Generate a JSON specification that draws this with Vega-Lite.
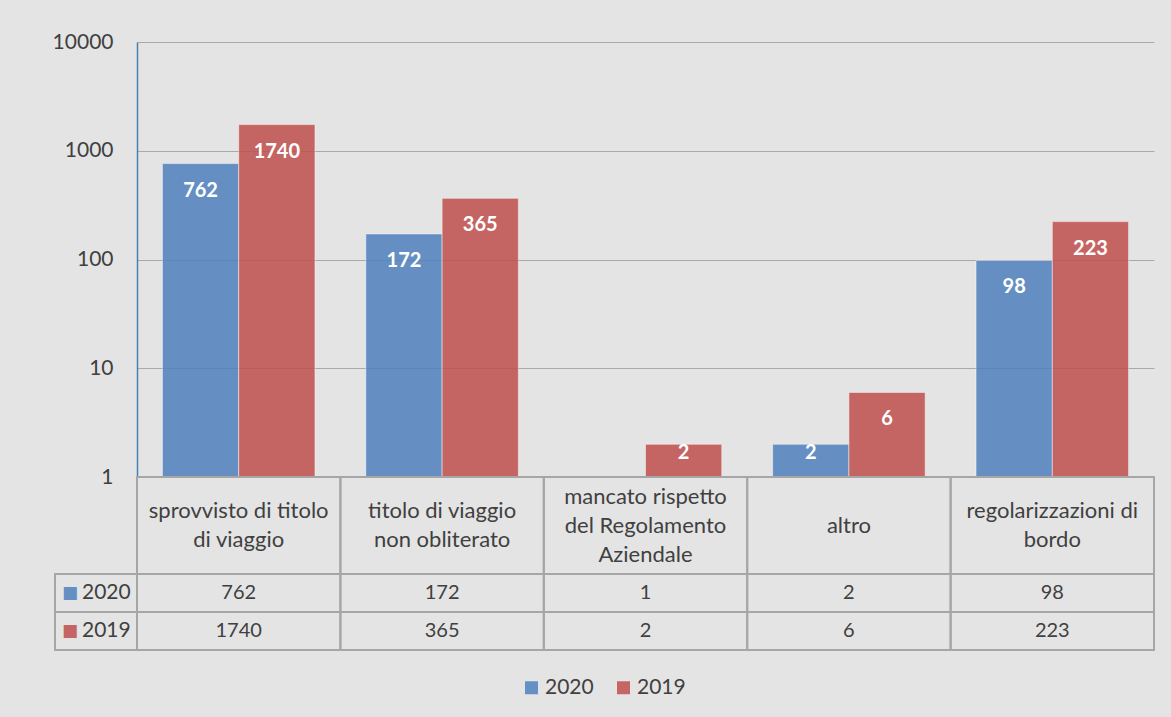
{
  "$schema": "https://vega.github.io/schema/vega-lite/v6.json",
  "background": "#e4e4e4",
  "padding": {"left": 52, "top": 31, "right": 20, "bottom": 21},
  "config": {"view": {"stroke": null}, "font": "Lato", "text": {"font": "Lato"}},
  "datasets": {
    "counts": [
      {"cat": "sprovvisto di titolo\ndi viaggio", "series": "2020", "value": 762},
      {"cat": "sprovvisto di titolo\ndi viaggio", "series": "2019", "value": 1740},
      {"cat": "titolo di viaggio\nnon obliterato", "series": "2020", "value": 172},
      {"cat": "titolo di viaggio\nnon obliterato", "series": "2019", "value": 365},
      {"cat": "mancato rispetto\ndel Regolamento\nAziendale", "series": "2020", "value": 1},
      {"cat": "mancato rispetto\ndel Regolamento\nAziendale", "series": "2019", "value": 2},
      {"cat": "altro", "series": "2020", "value": 2},
      {"cat": "altro", "series": "2019", "value": 6},
      {"cat": "regolarizzazioni di\nbordo", "series": "2020", "value": 98},
      {"cat": "regolarizzazioni di\nbordo", "series": "2019", "value": 223}
    ]
  },
  "data": {"name": "counts"},
  "columns": 2,
  "spacing": 0,
  "bounds": "flush",
  "align": "each",
  "concat": [
    {
      "width": 1, "height": 1,
      "mark": {"type": "point", "opacity": 0},
      "encoding": {}
    },
    {
      "width": 1017, "height": 435,
      "encoding": {
        "x": {"field": "cat", "type": "nominal", "sort": null, "scale": {"paddingInner": 0.25, "paddingOuter": 0.125}, "axis": null},
        "xOffset": {"field": "series", "type": "nominal", "sort": ["2020", "2019"]},
        "y": {
          "field": "value", "type": "quantitative",
          "scale": {"type": "log", "domain": [1, 10000]},
          "axis": {
            "values": [1, 10, 100, 1000, 10000], "format": "d", "title": null,
            "grid": true, "gridColor": "#a9a9a9", "gridWidth": 1,
            "domainColor": "#4a7ebb", "domainWidth": 1.5, "ticks": false,
            "labelFontSize": 21, "labelColor": "#404040", "labelFont": "Lato", "labelPadding": 24
          }
        }
      },
      "layer": [
        {
          "mark": {"type": "bar", "opacity": 0.85, "stroke": "#ffffff", "strokeOpacity": 0.5, "strokeWidth": 1},
          "encoding": {
            "y2": {"datum": 1},
            "color": {
              "field": "series", "type": "nominal",
              "scale": {"domain": ["2020", "2019"], "range": ["#4F81BD", "#C0504D"]},
              "legend": {
                "orient": "none", "legendX": 466, "legendY": 635, "direction": "horizontal",
                "title": null, "symbolType": "square", "symbolSize": 169, "symbolOpacity": 0.85,
                "symbolStrokeWidth": 0, "labelFontSize": 21, "labelColor": "#404040", "labelFont": "Lato",
                "columnPadding": 19, "labelOffset": 3
              }
            }
          }
        },
        {
          "transform": [{"filter": "datum.value >= 5"}],
          "mark": {"type": "text", "dy": 27, "color": "#ffffff", "fontWeight": "bold", "fontSize": 20},
          "encoding": {"text": {"field": "value", "type": "quantitative"}}
        },
        {
          "transform": [{"filter": "datum.value > 1 && datum.value < 5"}],
          "mark": {"type": "text", "dy": 9, "color": "#ffffff", "fontWeight": "bold", "fontSize": 20},
          "encoding": {"text": {"field": "value", "type": "quantitative"}}
        }
      ]
    },
    {
      "width": 1, "height": 1,
      "mark": {"type": "point", "opacity": 0},
      "encoding": {}
    },
    {
      "width": 1017, "height": 97,
      "transform": [{"filter": "datum.series == '2020'"}],
      "encoding": {
        "x": {"field": "cat", "type": "nominal", "sort": null, "scale": {"paddingInner": 0, "paddingOuter": 0}, "axis": null}
      },
      "layer": [
        {"mark": {"type": "rect", "fillOpacity": 0, "stroke": "#a6a6a6", "strokeWidth": 2}},
        {
          "transform": [{"filter": "length(split(datum.cat, '\\n')) == 1"}],
          "mark": {"type": "text", "lineBreak": "\n", "fontSize": 22, "color": "#404040", "lineHeight": 29, "baseline": "middle", "dy": 0},
          "encoding": {"text": {"field": "cat", "type": "nominal"}}
        },
        {
          "transform": [{"filter": "length(split(datum.cat, '\\n')) == 2"}],
          "mark": {"type": "text", "lineBreak": "\n", "fontSize": 22, "color": "#404040", "lineHeight": 29, "baseline": "middle", "dy": -14.5},
          "encoding": {"text": {"field": "cat", "type": "nominal"}}
        },
        {
          "transform": [{"filter": "length(split(datum.cat, '\\n')) == 3"}],
          "mark": {"type": "text", "lineBreak": "\n", "fontSize": 22, "color": "#404040", "lineHeight": 29, "baseline": "middle", "dy": -29},
          "encoding": {"text": {"field": "cat", "type": "nominal"}}
        }
      ]
    },
    {
      "width": 82, "height": 76,
      "transform": [{"aggregate": [{"op": "count", "as": "n"}], "groupby": ["series"]}],
      "encoding": {
        "y": {"field": "series", "type": "nominal", "sort": ["2020", "2019"], "scale": {"paddingInner": 0, "paddingOuter": 0}, "axis": null}
      },
      "layer": [
        {"mark": {"type": "rect", "fillOpacity": 0, "stroke": "#a6a6a6", "strokeWidth": 2}},
        {
          "mark": {"type": "text", "text": "■", "font": "DejaVu Sans", "fontSize": 17, "dx": -26, "opacity": 0.85},
          "encoding": {
            "color": {
              "field": "series", "type": "nominal",
              "scale": {"domain": ["2020", "2019"], "range": ["#4F81BD", "#C0504D"]},
              "legend": null
            }
          }
        },
        {
          "mark": {"type": "text", "align": "left", "dx": -14, "fontSize": 21, "color": "#404040"},
          "encoding": {"text": {"field": "series", "type": "nominal"}}
        }
      ]
    },
    {
      "width": 1017, "height": 76,
      "encoding": {
        "x": {"field": "cat", "type": "nominal", "sort": null, "scale": {"paddingInner": 0, "paddingOuter": 0}, "axis": null},
        "y": {"field": "series", "type": "nominal", "sort": ["2020", "2019"], "scale": {"paddingInner": 0, "paddingOuter": 0}, "axis": null}
      },
      "layer": [
        {"mark": {"type": "rect", "fillOpacity": 0, "stroke": "#a6a6a6", "strokeWidth": 2}},
        {
          "mark": {"type": "text", "fontSize": 20, "color": "#404040"},
          "encoding": {"text": {"field": "value", "type": "quantitative"}}
        }
      ]
    }
  ]
}
